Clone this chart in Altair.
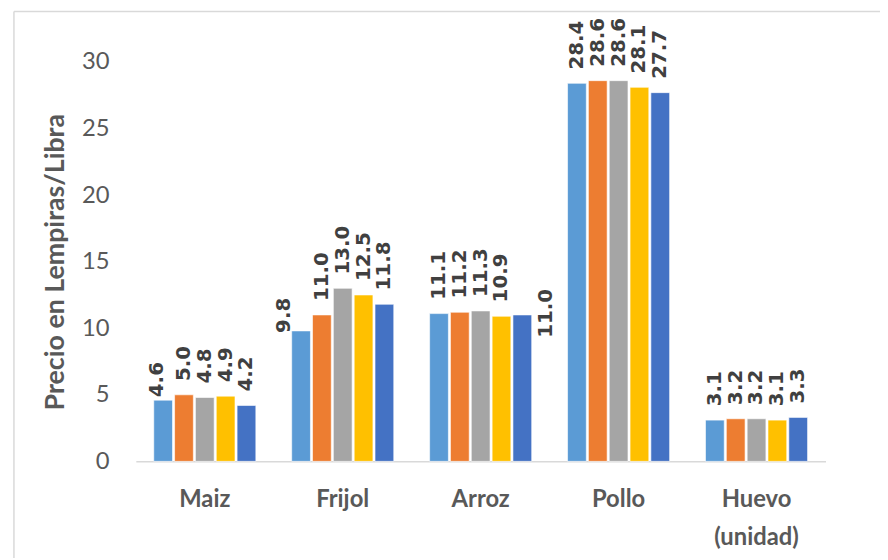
import altair as alt
import pandas as pd

productos = ["Maiz", "Frijol", "Arroz", "Pollo", "Huevo (unidad)"]
series = ["Serie 1", "Serie 2", "Serie 3", "Serie 4", "Serie 5"]
maiz = [4.6, 5.0, 4.8, 4.9, 4.2]
frijol = [9.8, 11.0, 13.0, 12.5, 11.8]
arroz = [11.1, 11.2, 11.3, 10.9, 11.0]
pollo = [28.4, 28.6, 28.6, 28.1, 27.7]
huevo = [3.1, 3.2, 3.2, 3.1, 3.3]
colores = ["#5B9BD5", "#ED7D31", "#A5A5A5", "#FFC000", "#4472C4"]
y_ticks = [0, 5, 10, 15, 20, 25, 30]

rows = []
for prod, vals in zip(productos, [maiz, frijol, arroz, pollo, huevo]):
    for s, v in zip(series, vals):
        rows.append({"Producto": prod, "Serie": s, "Precio": v})
df = pd.DataFrame(rows)

FONT = "Lato"
LABEL_FONT = "DejaVu Sans"

x_enc = alt.X(
    "Producto:N",
    sort=productos,
    scale=alt.Scale(paddingInner=0.26, paddingOuter=0.13),
    axis=alt.Axis(
        title=None,
        labelAngle=0,
        labelExpr="split(datum.label, ' ')",
        labelFont=FONT,
        labelFontSize=24,
        labelFontWeight="bold",
        labelColor="#595959",
        labelPadding=27,
        labelLineHeight=38,
        labelBaseline="top",
        ticks=False,
        domainColor="#D9D9D9",
        domainWidth=1.5,
    ),
)
y_enc = alt.Y(
    "Precio:Q",
    scale=alt.Scale(domain=[0, 30], nice=False),
    axis=alt.Axis(
        title="Precio en Lempiras/Libra",
        values=y_ticks,
        titleFont=FONT,
        titleFontSize=27,
        titleFontWeight="bold",
        titleColor="#595959",
        titlePadding=12,
        labelFont=FONT,
        labelFontSize=24,
        labelColor="#595959",
        labelPadding=27,
        ticks=False,
        domain=False,
        grid=False,
    ),
)
xoff = alt.XOffset("Serie:N", sort=series, scale=alt.Scale(paddingInner=0.1))
color = alt.Color("Serie:N", sort=series, scale=alt.Scale(domain=series, range=colores), legend=None)

base = alt.Chart(df)

bars = base.mark_bar(stroke="white", strokeWidth=0.6).encode(
    x=x_enc, y=y_enc, xOffset=xoff, color=color
)

# Label placement: default sits above the bar; a few labels were moved by hand
# in the original chart.
moved = [
    ("datum.Producto == 'Maiz' && datum.Serie == 'Serie 1'", 3, -6),
    ("datum.Producto == 'Frijol' && datum.Serie == 'Serie 1'", -2, -17),
    ("datum.Producto == 'Arroz' && datum.Serie == 'Serie 5'", -23, 24),
]


def label_layer(filter_expr, dx, dy):
    return base.transform_filter(filter_expr).mark_text(
        angle=270, align="left", baseline="middle", dx=dx, dy=dy,
        font=LABEL_FONT, fontSize=20, fontWeight="bold", color="#404040",
    ).encode(
        x=x_enc, y=y_enc, xOffset=xoff,
        text=alt.Text("Precio:Q", format=".1f"),
    )


default_filter = "!(" + " || ".join("(" + m[0] + ")" for m in moved) + ")"
label_layers = [label_layer(default_filter, 14, 0)] + [label_layer(f, a, b) for f, a, b in moved]

frame_left = alt.Chart(pd.DataFrame({"a": [0]})).mark_rule(color="#D9D9D9", strokeWidth=1.5).encode(
    x=alt.value(-123), y=alt.value(-51), y2=alt.value(520)
)
frame_top = alt.Chart(pd.DataFrame({"a": [0]})).mark_rule(color="#D9D9D9", strokeWidth=1.5).encode(
    x=alt.value(-123), x2=alt.value(760), y=alt.value(-51)
)

chart = alt.layer(frame_left, frame_top, bars, *label_layers).properties(
    width=696, height=403,
    background="white",
    autosize=alt.AutoSizeParams(type="none"),
    padding={"left": 129, "top": 52, "right": 55, "bottom": 95},
).configure_view(stroke="transparent", strokeWidth=0)

chart.save("out.html", embed_options={"renderer": "svg", "actions": False})
